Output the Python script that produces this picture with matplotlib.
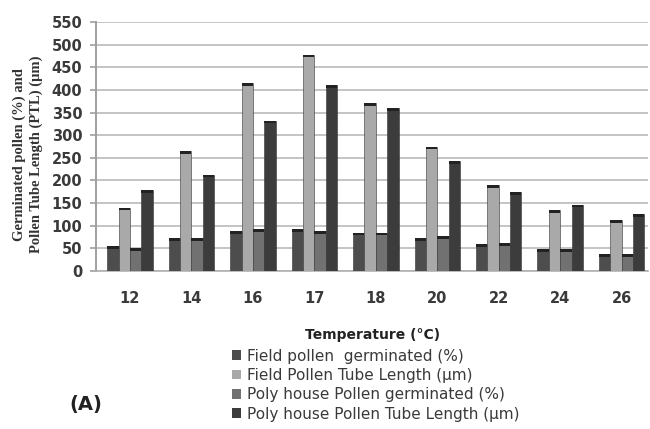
import numpy as np
from matplotlib import pyplot as plt
from matplotlib.patches import Patch

temps = ['12', '14', '16', '17', '18', '20', '22', '24', '26']
field_germ = [55, 73, 88, 92, 85, 73, 60, 48, 37]
field_ptl = [140, 265, 415, 478, 370, 275, 190, 135, 112]
poly_germ = [50, 73, 92, 88, 85, 77, 62, 48, 37]
poly_ptl = [178, 213, 332, 410, 360, 243, 175, 147, 125]

series = [field_germ, field_ptl, poly_germ, poly_ptl]
labels = ['Field pollen  germinated (%)', 'Field Pollen Tube Length (\u00b5m)',
          'Poly house Pollen germinated (%)', 'Poly house Pollen Tube Length (\u00b5m)']
colors = ['#4d4d4d', '#a9a9a9', '#717171', '#3c3c3c']

fig = plt.figure(figsize=(6.5, 4.29), dpi=100, facecolor='w')
ax = fig.add_axes([0.148, 0.368, 0.849, 0.581])

x = np.arange(len(temps))
w = 0.185
for i, (vals, c) in enumerate(zip(series, colors)):
    pos = x + (i - 1.5) * w
    ax.bar(pos, vals, width=w, color=c, edgecolor='#333333', linewidth=0.4, zorder=3)
    # dark cap on top of each bar
    ax.bar(pos, [6] * len(vals), bottom=np.array(vals) - 6, width=w,
           color='#222222', linewidth=0, zorder=4)

ax.set_ylim(0, 550)
ax.set_yticks(np.arange(0, 551, 50))
ax.set_xlim(-0.55, 8.43)
ax.set_xticks(x)
ax.set_xticklabels(temps)
ax.grid(axis='y', color='#c4c4c4', linewidth=1.4, zorder=0)
for s in ['top', 'right']:
    ax.spines[s].set_visible(False)
ax.spines['left'].set_color('#a0a0a0')
ax.spines['left'].set_linewidth(1.4)
ax.spines['bottom'].set_color('#b0b0b0')
ax.spines['bottom'].set_linewidth(1.2)
ax.tick_params(axis='y', labelsize=10.5, colors='#a0a0a0', labelcolor='#3a3a3a', length=4, width=1.2, pad=6)
ax.tick_params(axis='x', labelsize=10.5, length=0, labelcolor='#3a3a3a', pad=14)
for t in ax.get_yticklabels() + ax.get_xticklabels():
    t.set_fontweight('bold')

fig.text(0.043, 0.64, 'Germinated pollen (%) and\nPollen Tube Length (PTL) (\u00b5m)',
         rotation=90, ha='center', va='center', fontsize=10.5, fontweight='bold',
         family='Liberation Serif', color='#333333', linespacing=1.3)

ax.set_xlabel('Temperature (\u00b0C)', fontsize=10, fontweight='bold', color='#222222', labelpad=16)

handles = [Patch(facecolor=c, edgecolor='none') for c in colors]
fig.legend(handles, labels, loc='upper left', bbox_to_anchor=(0.345, 0.205),
           frameon=False, fontsize=11, handlelength=0.6, handleheight=0.6,
           handletextpad=0.4, labelspacing=0.28, borderpad=0, labelcolor='#3a3a3a')

fig.text(0.107, 0.045, '(A)', fontsize=14, fontweight='bold', color='#222222')

plt.savefig('out.png', dpi=100)
